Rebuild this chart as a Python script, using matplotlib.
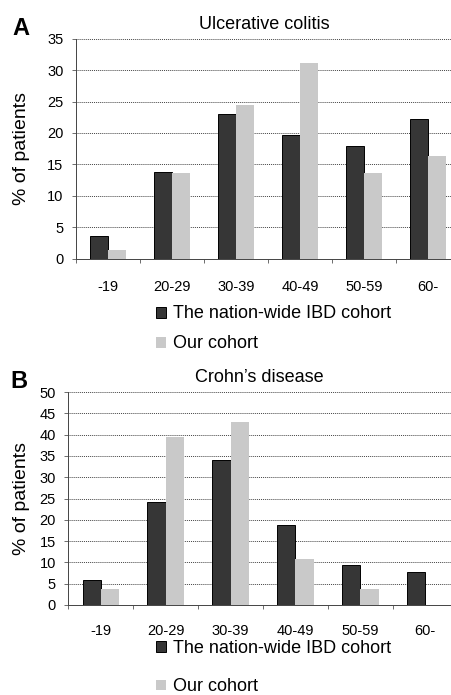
import numpy as np
import matplotlib
matplotlib.use('Agg')
import matplotlib.pyplot as plt

plt.rcParams['font.family'] = ['Liberation Sans', 'DejaVu Sans']

# Age groups and percentages
AGE_GROUPS = ["-19", "20-29", "30-39", "40-49", "50-59", "60-"]
SERIES_NAMES = ["The nation-wide IBD cohort", "Our cohort"]

UC_NATION = [3.6, 13.8, 23.0, 19.6, 18.0, 22.2]
UC_OURS = [1.4, 13.6, 24.4, 31.2, 13.6, 16.3]

CD_NATION = [5.8, 24.2, 34.1, 18.8, 9.4, 7.8]
CD_OURS = [3.7, 39.4, 43.0, 10.9, 3.7, 0.0]

DARK = "#363636"
LIGHT = "#c9c9c9"
W, H = 452, 695


def draw_panel(fig, rect, nation, ours, ymax, title, letter, letter_xy,
               legend_y, label_gap, xpad, ylabel_x):
    ax = fig.add_axes(rect)
    x = np.arange(len(AGE_GROUPS))
    bw = 0.28
    b1 = ax.bar(x - bw / 2, nation, width=bw, color=DARK, edgecolor="black",
                linewidth=0.7, zorder=3)
    b2 = ax.bar(x + bw / 2, ours, width=bw, color=LIGHT, edgecolor="none",
                zorder=3)

    ax.set_xlim(-0.5, len(AGE_GROUPS) - 0.5)
    ax.set_ylim(0, ymax)
    ax.set_yticks(np.arange(0, ymax + 1, 5))
    ax.set_xticks(x)
    ax.set_xticklabels(AGE_GROUPS, fontsize=10.5)
    ax.set_xticks(np.arange(-0.5, len(AGE_GROUPS)), minor=True)
    ax.tick_params(axis="x", which="major", length=0, pad=xpad)
    ax.tick_params(axis="x", which="minor", length=3, width=0.6, color="#555555")
    ax.tick_params(axis="y", length=3, width=0.6, color="#555555", labelsize=10.5, pad=6)

    ax.yaxis.grid(True, linestyle=(0, (1, 1)), color="#444444", linewidth=0.7, zorder=0)
    for side in ["top", "right"]:
        ax.spines[side].set_visible(False)
    for side in ["left", "bottom"]:
        ax.spines[side].set_linestyle((0, (1, 1)))
        ax.spines[side].set_color("#444444")
        ax.spines[side].set_linewidth(0.7)

    ax.set_ylabel("% of patients", fontsize=14)
    ax.yaxis.set_label_coords(ylabel_x, 0.5)
    ax.set_title(title, fontsize=13, x=0.49, pad=7)

    fig.text(letter_xy[0] / W, 1 - letter_xy[1] / H, letter, fontsize=17,
             fontweight="bold", va="baseline", ha="left")

    ax.legend([b1, b2], SERIES_NAMES, loc="center left",
              bbox_to_anchor=(156 / W, 1 - legend_y / H),
              bbox_transform=fig.transFigure, frameon=False, fontsize=13,
              handlelength=0.55, handleheight=0.55, handletextpad=0.4,
              borderpad=0, borderaxespad=0, labelspacing=label_gap)
    return ax


fig = plt.figure(figsize=(W / 100, H / 100), dpi=100)

draw_panel(fig, [76 / W, 1 - 258.7 / H, 384 / W, 220 / H],
           UC_NATION, UC_OURS, 35, "Ulcerative colitis",
           "A", (12, 35), 329, 0.72, 15, -0.12)

draw_panel(fig, [68.3 / W, 1 - 605 / H, 389.4 / W, 213 / H],
           CD_NATION, CD_OURS, 50, "Crohn\u2019s disease",
           "B", (10, 388), 667.5, 1.2, 14, -0.098)

fig.savefig("out.png", dpi=100)
